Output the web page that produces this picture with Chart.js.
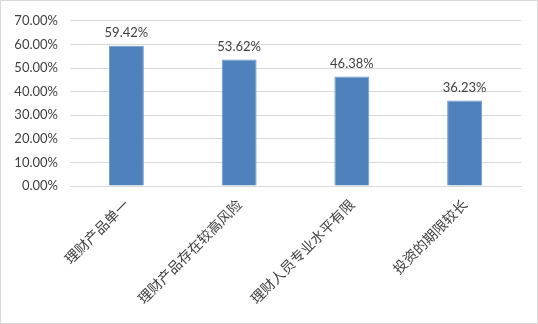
<!DOCTYPE html>
<html>
<head>
<meta charset="utf-8">
<script src="https://cdn.jsdelivr.net/npm/chart.js@4"></script>
<style>
    html, body { margin: 0; padding: 0; background: #ffffff; }
    #box { width: 538px; height: 324px; box-sizing: border-box; border: 1px solid #d9d9d9; }
    #chart { display: block; }
</style>
</head>
<body>
<div id="box"><canvas id="chart" width="536" height="322"></canvas></div>
<script>
const categories = ["理财产品单一", "理财产品存在较高风险", "理财人员专业水平有限", "投资的期限较长"];
const values = [59.42, 53.62, 46.38, 36.23];
const yMax = 70;
const yStep = 10;

// value labels above each bar
const valueLabels = {
    id: "valueLabels",
    afterDatasetsDraw(chart) {
        const ctx = chart.ctx;
        const meta = chart.getDatasetMeta(0);
        ctx.save();
        ctx.font = "13px Lato, 'Liberation Sans', sans-serif";
        ctx.fillStyle = "#404040";
        ctx.textAlign = "center";
        ctx.textBaseline = "bottom";
        meta.data.forEach((bar, i) => {
            ctx.fillText(values[i].toFixed(2) + "%", bar.x, bar.y - 6);
        });
        ctx.restore();
    }
};

new Chart(document.getElementById("chart"), {
    type: "bar",
    data: {
        labels: categories,
        datasets: [{
            data: values,
            backgroundColor: "#4f81bd",
            borderColor: "#6f9bd0",
            borderWidth: 1,
            categoryPercentage: 1,
            barPercentage: 0.31
        }]
    },
    options: {
        responsive: false,
        animation: false,
        layout: { padding: { top: 16, right: 16, left: 0, bottom: 0 } },
        plugins: {
            legend: { display: false },
            tooltip: { enabled: false }
        },
        scales: {
            x: {
                grid: { display: false, drawTicks: false },
                border: { color: "#d9d9d9" },
                ticks: {
                    color: "#404040",
                    font: { family: "'Noto Sans CJK SC'", size: 14 },
                    maxRotation: 45,
                    minRotation: 45,
                    padding: 10
                },
                afterFit(scale) { scale.height = 137; }
            },
            y: {
                min: 0,
                max: yMax,
                grid: { color: "#d9d9d9", drawTicks: false },
                border: { display: false },
                ticks: {
                    stepSize: yStep,
                    color: "#404040",
                    font: { family: "Lato, 'Liberation Sans', sans-serif", size: 13 },
                    padding: 12,
                    callback: v => v.toFixed(2) + "%"
                },
                afterFit(scale) { scale.width = 69; }
            }
        }
    },
    plugins: [valueLabels]
});
</script>
</body>
</html>
